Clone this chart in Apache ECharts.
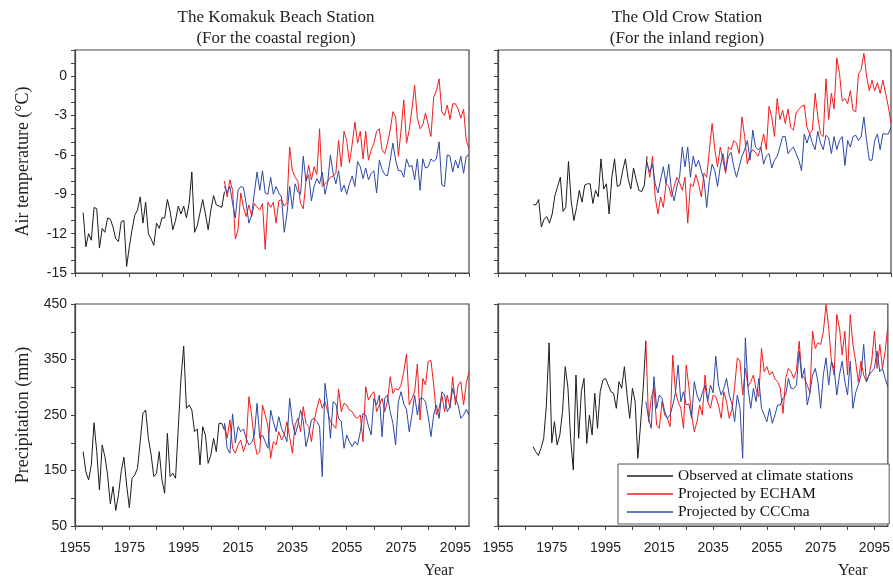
<!DOCTYPE html>
<html>
<head>
<meta charset="utf-8">
<script src="https://cdn.jsdelivr.net/npm/echarts@6/dist/echarts.min.js"></script>
<style>
html,body{margin:0;padding:0;background:#fff;}
#c{width:893px;height:579px;}
</style>
</head>
<body>
<div id="c"></div>
<script>
// ---- Data ----
const obsStartKomakuk = 1958;
const obsStartOldCrow = 1968;
const projStart = 2010;
const xTickLabels = [1955, 1975, 1995, 2015, 2035, 2055, 2075, 2095];
const seriesNames = ['Observed at climate stations', 'Projected by ECHAM', 'Projected by CCCma'];

const komakukObsTemp = [
  -10.4,-13.0,-12.0,-12.5,-10.0,-10.1,-13.1,-11.6,-11.9,-10.8,
  -10.9,-11.5,-12.4,-12.6,-11.1,-11.0,-14.5,-13.0,-11.7,-10.6,
  -10.2,-9.2,-11.2,-9.6,-12.0,-12.4,-12.9,-11.2,-11.6,-10.8,
  -10.8,-9.4,-10.3,-11.7,-11.0,-9.9,-10.5,-9.9,-10.8,-9.7,
  -7.3,-11.9,-11.4,-10.4,-9.4,-10.5,-11.7,-10.2,-9.1,-9.8,
  -9.9,-10.0,-8.8
];
const komakukEchamTemp = [
  -8.0,-9.2,-7.9,-8.7,-12.4,-11.7,-8.9,-10.0,-10.7,-9.8,
  -10.7,-9.7,-10.0,-10.2,-9.7,-13.2,-9.6,-10.0,-9.6,-11.2,
  -9.5,-9.4,-9.9,-9.7,-5.4,-7.2,-7.7,-8.0,-9.7,-10.1,
  -8.0,-6.8,-7.9,-6.9,-7.5,-4.0,-8.4,-8.2,-8.0,-7.7,
  -7.6,-7.4,-4.9,-6.9,-4.2,-4.9,-6.6,-5.2,-3.5,-5.1,
  -4.2,-6.3,-4.2,-6.4,-5.6,-5.1,-4.2,-4.0,-5.6,-5.9,
  -5.1,-4.1,-2.7,-3.1,-6.1,-4.1,-1.8,-5.1,-4.1,-2.5,
  -0.7,-3.2,-4.0,-3.7,-2.8,-3.7,-4.6,-1.6,-1.1,-0.2,
  -2.7,-3.0,-2.2,-3.3,-2.1,-2.1,-2.5,-3.2,-2.5,-4.9,
  -5.5
];
const komakukCccmaTemp = [
  -8.4,-8.9,-8.4,-9.7,-10.8,-8.7,-8.4,-8.5,-9.7,-11.2,
  -10.6,-8.9,-7.3,-8.7,-7.2,-8.9,-9.0,-7.7,-9.0,-8.4,
  -8.9,-9.2,-11.9,-10.5,-8.4,-10.1,-8.2,-8.8,-9.0,-6.1,
  -8.0,-7.5,-9.5,-8.4,-7.8,-8.2,-7.3,-9.0,-8.1,-6.0,
  -7.4,-8.2,-7.2,-8.8,-8.3,-9.0,-8.2,-7.6,-8.4,-6.5,
  -6.9,-7.8,-7.0,-7.9,-7.4,-7.2,-8.9,-6.4,-7.1,-7.5,
  -7.6,-6.4,-5.1,-6.4,-7.2,-7.2,-7.7,-6.3,-6.9,-6.8,
  -7.9,-6.3,-8.7,-6.3,-7.0,-6.9,-6.3,-6.5,-6.3,-5.0,
  -8.3,-8.4,-6.0,-6.1,-7.3,-6.4,-7.0,-6.1,-7.4,-6.1,
  -6.0
];
const oldCrowObsTemp = [
  -9.8,-9.8,-9.4,-11.5,-10.9,-10.7,-11.2,-10.5,-9.1,-8.4,
  -7.7,-10.3,-10.0,-6.5,-9.5,-11.0,-10.0,-8.7,-9.6,-8.3,
  -8.2,-8.2,-9.7,-8.7,-9.2,-6.3,-8.6,-8.2,-10.5,-7.7,
  -6.3,-8.4,-8.3,-7.2,-6.3,-7.8,-8.6,-7.0,-7.9,-8.7,
  -8.8,-8.3,-6.1
];
const oldCrowEchamTemp = [
  -6.5,-7.7,-6.1,-9.2,-10.5,-9.2,-10.0,-8.2,-8.4,-9.2,
  -8.4,-7.7,-8.1,-8.7,-7.7,-11.2,-8.2,-8.4,-7.5,-8.2,
  -9.2,-7.4,-7.7,-5.6,-3.6,-5.6,-6.9,-5.4,-6.4,-7.4,
  -5.4,-5.6,-4.9,-5.1,-5.9,-3.1,-4.6,-6.7,-5.9,-5.6,
  -5.8,-6.1,-5.4,-4.4,-5.6,-2.3,-3.1,-4.6,-1.7,-3.3,
  -2.6,-3.6,-2.5,-3.9,-4.1,-2.8,-2.5,-2.3,-2.2,-3.9,
  -4.4,-4.1,-1.3,-3.1,-4.4,-4.6,-0.2,-3.3,-1.3,-2.5,
  1.4,0.2,-1.9,-1.7,-2.1,-1.1,-2.6,-2.7,0.2,0.5,
  1.75,0.0,-1.1,-0.3,-1.1,-0.5,-1.3,-0.3,-1.3,-2.3,
  -3.6
];
const oldCrowCccmaTemp = [
  -6.7,-7.3,-6.7,-8.2,-8.9,-7.9,-6.9,-8.2,-6.7,-8.7,
  -9.5,-8.4,-7.7,-5.4,-6.9,-5.4,-7.7,-6.1,-6.9,-6.4,
  -7.2,-7.9,-10.0,-7.9,-6.7,-7.2,-8.4,-6.9,-5.9,-7.2,
  -6.1,-5.8,-6.9,-7.7,-6.9,-6.1,-5.6,-4.9,-6.4,-4.1,
  -5.4,-5.6,-5.4,-6.7,-6.1,-5.9,-7.0,-6.4,-6.1,-5.4,
  -4.6,-4.6,-5.9,-5.6,-5.4,-5.9,-6.4,-7.2,-4.4,-5.1,
  -4.4,-5.1,-5.6,-4.2,-5.1,-5.6,-4.5,-4.7,-5.9,-4.6,
  -5.6,-4.9,-4.6,-6.8,-4.9,-5.4,-4.6,-4.5,-4.9,-4.6,
  -3.1,-4.9,-6.4,-6.4,-4.9,-4.4,-5.6,-4.4,-4.4,-4.4,
  -3.9
];
const komakukObsPrec = [
  184,148,133,160,236,184,115,196,175,142,
  90,121,78,106,148,174,124,83,136,142,
  154,202,253,259,208,179,139,145,184,133,
  109,217,139,145,136,226,316,374,262,268,
  259,220,225,160,229,214,163,178,208,184,
  235,235,223
];
const komakukEchamPrec = [
  235,208,241,190,181,196,205,184,199,283,
  250,202,179,184,268,250,230,172,202,196,
  220,205,214,238,210,181,232,244,220,265,
  235,229,202,238,262,280,262,274,256,238,
  232,226,297,256,271,268,259,256,247,244,
  250,202,301,277,286,292,256,268,280,256,
  275,319,289,298,295,304,328,360,268,280,
  292,342,241,316,304,347,348,304,250,262,
  286,256,286,262,319,268,304,310,268,307,
  328
];
const komakukCccmaPrec = [
  235,190,181,252,200,229,220,225,208,196,
  200,214,271,208,214,202,190,259,238,220,
  247,226,215,202,280,238,214,232,259,240,
  193,214,241,244,238,230,139,307,268,208,
  274,270,244,238,190,214,202,193,202,196,
  220,253,250,230,214,280,268,286,211,280,
  286,256,235,196,274,292,270,260,220,250,
  286,250,280,280,274,247,211,250,268,244,
  292,286,256,265,298,280,268,244,250,260,
  250
];
const oldCrowObsPrec = [
  193,184,177,190,208,268,380,200,238,196,
  214,256,337,300,208,151,322,208,292,316,
  199,250,214,289,226,292,313,316,304,292,
  289,262,310,298,337,286,244,298,274,172,
  232,298,384
];
const oldCrowEchamPrec = [
  383,238,280,300,232,226,274,250,244,229,
  358,292,274,262,226,340,300,250,220,238,
  268,250,322,274,262,286,283,268,244,292,
  274,244,260,300,353,347,286,334,301,310,
  322,296,283,370,328,337,322,328,315,310,
  298,253,316,334,328,316,330,383,322,316,
  304,290,401,370,380,377,400,449,407,347,
  322,431,407,358,401,322,431,377,347,310,
  347,322,310,322,347,401,334,377,334,365,
  410
];
const oldCrowCccmaPrec = [
  274,244,226,319,262,286,280,256,244,250,
  268,290,340,274,292,268,270,244,310,286,
  274,290,304,274,304,290,356,304,286,298,
  316,286,270,238,286,262,172,389,298,262,
  298,274,316,262,250,238,262,235,250,268,
  268,280,286,316,298,298,304,365,316,334,
  268,290,322,334,310,262,322,353,304,347,
  334,286,322,347,310,286,347,262,290,304,
  322,377,310,322,328,334,365,328,334,316,
  300
];

// ---- Chart ----
const pairs = (start, vals) => vals.map((v, i) => [start + i, v]);
const colors = ['#1c1c1c', '#f21c1c', '#2c48a6'];
const tickFont = {fontFamily: "'Liberation Sans Narrow', 'Arial Narrow', 'Liberation Sans', sans-serif", fontSize: 14, color: '#222'};
const serif = "'Liberation Serif', 'Times New Roman', serif";
const axisLineStyle = {lineStyle: {color: '#444', width: 1.2}};

const grids = [
  {left: 75, top: 50, width: 394, height: 223},
  {left: 498, top: 50, width: 393, height: 223},
  {left: 75, top: 304, width: 394, height: 222},
  {left: 498, top: 304, width: 393, height: 222}
].map(g => Object.assign({show: true, borderColor: '#444', borderWidth: 1.2, backgroundColor: 'transparent'}, g));

const xAxes = grids.map((g, i) => ({
  type: 'value', gridIndex: i, min: 1955, max: 2100, interval: 10,
  axisLine: {show: true, onZero: false, ...axisLineStyle}, splitLine: {show: false},
  axisTick: {show: true, length: 4, inside: false, lineStyle: {color: '#444'}},
  axisLabel: {
    show: i >= 2, margin: 15, ...tickFont, showMaxLabel: false,
    formatter: v => (xTickLabels.indexOf(v) >= 0 ? String(v) : '')
  }
}));

const yAxes = grids.map((g, i) => {
  const temp = i < 2;
  return {
    type: 'value', gridIndex: i,
    min: temp ? -15 : 50, max: temp ? 2 : 450, interval: temp ? 1 : 50,
    axisLine: {show: true, onZero: false, ...axisLineStyle}, splitLine: {show: false},
    axisTick: {show: true, length: 4, lineStyle: {color: '#444'}},
    axisLabel: {
      show: i % 2 === 0, margin: 8, ...tickFont,
      formatter: temp ? (v => (v % 3 === 0 && v <= 0 ? String(v) : ''))
                      : (v => ((v - 50) % 100 === 0 ? String(v) : ''))
    },
    name: i === 0 ? 'Air temperature (°C)' : (i === 2 ? 'Precipitation (mm)' : ''),
    nameLocation: 'middle', nameGap: 43,
    nameTextStyle: {fontFamily: serif, fontSize: 18, color: '#222'}
  };
});

const panelData = [
  [pairs(obsStartKomakuk, komakukObsTemp), pairs(projStart, komakukEchamTemp), pairs(projStart, komakukCccmaTemp)],
  [pairs(obsStartOldCrow, oldCrowObsTemp), pairs(projStart, oldCrowEchamTemp), pairs(projStart, oldCrowCccmaTemp)],
  [pairs(obsStartKomakuk, komakukObsPrec), pairs(projStart, komakukEchamPrec), pairs(projStart, komakukCccmaPrec)],
  [pairs(obsStartOldCrow, oldCrowObsPrec), pairs(projStart, oldCrowEchamPrec), pairs(projStart, oldCrowCccmaPrec)]
];

const series = [];
panelData.forEach((sets, gi) => {
  sets.forEach((d, si) => {
    series.push({
      type: 'line', name: seriesNames[si], xAxisIndex: gi, yAxisIndex: gi,
      data: d, symbol: 'none', showSymbol: false,
      lineStyle: {color: colors[si], width: 1}, itemStyle: {color: colors[si]},
      animation: false
    });
  });
});

const chart = echarts.init(document.getElementById('c'), null, {renderer: 'canvas'});
chart.setOption({
  backgroundColor: '#fff',
  animation: false,
  title: [
    {text: 'The Komakuk Beach Station\n(For the coastal region)', left: 271, top: 2, textAlign: 'center',
     textStyle: {fontFamily: serif, fontSize: 17, fontWeight: 'normal', color: '#222', lineHeight: 21}},
    {text: 'The Old Crow Station\n(For the inland region)', left: 682, top: 2, textAlign: 'center',
     textStyle: {fontFamily: serif, fontSize: 17, fontWeight: 'normal', color: '#222', lineHeight: 21}}
  ],
  legend: {
    data: seriesNames, orient: 'vertical', left: 618, top: 464,
    icon: 'rect', itemWidth: 46, itemHeight: 1.5, itemGap: 2,
    padding: [4, 36, 4, 9],
    borderColor: '#555', borderWidth: 1, backgroundColor: '#fff',
    textStyle: {fontFamily: serif, fontSize: 15.5, color: '#111', lineHeight: 16},
    selectedMode: false
  },
  graphic: [
    {type: 'text', left: 424, top: 563, style: {text: 'Year', font: "16px 'Liberation Serif', serif", fill: '#222'}},
    {type: 'text', left: 838, top: 563, style: {text: 'Year', font: "16px 'Liberation Serif', serif", fill: '#222'}}
  ],
  grid: grids,
  xAxis: xAxes,
  yAxis: yAxes,
  series: series
});
</script>
</body>
</html>
